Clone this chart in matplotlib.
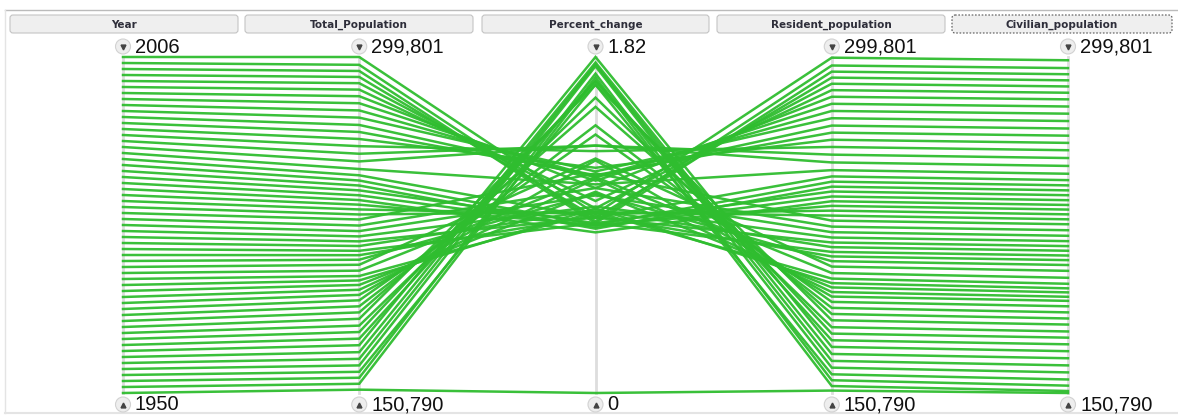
import matplotlib
matplotlib.use("Agg")
from matplotlib import pyplot as plt
from matplotlib.patches import FancyBboxPatch, Circle

# data (thousands), read / estimated from the chart
years = list(range(1950, 2007))
total_pop = [152271, 154878, 157553, 160184, 163026, 165931, 168903, 171984, 174882, 177830,
             180671, 183691, 186538, 189242, 191889, 194303, 196560, 198712, 200706, 202677,
             205052, 207661, 209896, 211909, 213854, 215973, 218035, 220239, 222585, 225055,
             227726, 229966, 232188, 234307, 236348, 238466, 240651, 242804, 245021, 247342,
             250132, 253493, 256894, 260255, 263436, 266557, 269667, 272912, 276115, 279295,
             282407, 285339, 288189, 290941, 293609, 296329, 299801]
pct_change = [0, 1.71, 1.73, 1.67, 1.77, 1.78, 1.79, 1.82, 1.69, 1.69,
              1.60, 1.67, 1.55, 1.45, 1.40, 1.26, 1.16, 1.09, 1.00, 0.98,
              1.17, 1.27, 1.08, 0.96, 0.92, 0.99, 0.95, 1.01, 1.07, 1.11,
              1.19, 0.98, 0.97, 0.91, 0.87, 0.90, 0.92, 0.89, 0.91, 0.95,
              1.13, 1.34, 1.34, 1.31, 1.22, 1.18, 1.17, 1.20, 1.17, 1.15,
              1.11, 1.04, 1.00, 0.95, 0.92, 0.93, 0.97]
resident_pop = [151868, 153878, 156453, 159084, 162026, 165031, 168103, 171234, 174182, 177130,
                179979, 183041, 185838, 188542, 191189, 193553, 195560, 197612, 199506, 201527,
                203984, 206861, 209246, 211359, 213354, 215473, 217535, 219739, 222105, 224575,
                227225, 229466, 231668, 233787, 235828, 237946, 240151, 242304, 244521, 246842,
                249623, 253043, 256494, 259905, 263106, 266257, 269387, 272652, 275865, 279045,
                282167, 285099, 287939, 290661, 293309, 296029, 299501]
civilian_pop = [150790, 151678, 154053, 156784, 159926, 163031, 166203, 169334, 172382, 175330,
                178079, 181141, 183838, 186542, 189239, 191653, 193460, 195412, 197206, 199227,
                201884, 204961, 207546, 209709, 211754, 213873, 215935, 218139, 220505, 222975,
                225625, 227816, 230018, 232137, 234178, 236296, 238501, 240654, 242871, 245192,
                248023, 251493, 254994, 258455, 261706, 264907, 268087, 271402, 274665, 277845,
                281017, 283949, 286739, 289461, 292159, 294879, 298351]

columns = ["Year", "Total_Population", "Percent_change", "Resident_population", "Civilian_population"]
series = [years, total_pop, pct_change, resident_pop, civilian_pop]

# population axes share one range
pop_min = min(total_pop + resident_pop + civilian_pop)
pop_max = max(total_pop + resident_pop + civilian_pop)
ranges = [(min(years), max(years)), (pop_min, pop_max), (min(pct_change), max(pct_change)),
          (pop_min, pop_max), (pop_min, pop_max)]
top_labels = [str(ranges[0][1]), f"{ranges[1][1]:,}", f"{ranges[2][1]:g}", f"{ranges[3][1]:,}", f"{ranges[4][1]:,}"]
bot_labels = [str(ranges[0][0]), f"{ranges[1][0]:,}", f"{ranges[2][0]:g}", f"{ranges[3][0]:,}", f"{ranges[4][0]:,}"]

W, H = 1178, 417
fig = plt.figure(figsize=(W / 100, H / 100), dpi=100)

# overlay in pixel coords for the frame, headers and labels
bg = fig.add_axes([0, 0, 1, 1])
bg.set_xlim(0, W)
bg.set_ylim(H, 0)
bg.axis("off")

ax_x0, ax_x1 = 123, 1068
ax_ytop, ax_ybot = 57, 393
ax = fig.add_axes([ax_x0 / W, (H - ax_ybot) / H, (ax_x1 - ax_x0) / W, (ax_ybot - ax_ytop) / H])
ax.set_xlim(0, len(columns) - 1)
ax.set_ylim(0, 1)
ax.axis("off")

# axis lines
for i in range(len(columns)):
    ax.plot([i, i], [0, 1], color="#dddddd", lw=2, zorder=1, clip_on=False)

# polylines
norm = []
for s, (lo, hi) in zip(series, ranges):
    norm.append([(v - lo) / (hi - lo) for v in s])
for r in range(len(years)):
    ax.plot(range(len(columns)), [norm[c][r] for c in range(len(columns))],
            color="#2fbd2f", lw=1.8, alpha=0.95, zorder=2, clip_on=False,
            solid_joinstyle="miter")

# frame lines
bg.plot([5, W], [10, 10], color="#bbbbbb", lw=1)
bg.plot([5, 5], [10, 413], color="#e4e4e4", lw=1)
bg.plot([5, W], [413, 413], color="#e4e4e4", lw=1.5)

# header buttons
boxes = [(10, 238), (245, 473), (482, 709), (717, 945), (952, 1172)]
for i, (x0, x1) in enumerate(boxes):
    last = i == len(boxes) - 1
    p = FancyBboxPatch((x0, 15), x1 - x0, 18, boxstyle="round,pad=0,rounding_size=3",
                       facecolor="#efefef", edgecolor="#555555" if last else "#c4c4c4",
                       lw=0.8, linestyle=(0, (1.5, 1.5)) if last else "-")
    bg.add_patch(p)
    bg.text((x0 + x1) / 2, 24.5, columns[i], ha="center", va="center",
            fontsize=7.5, fontweight="bold", color="#2e2e3a", family="DejaVu Sans")

# value labels with the small round buttons
xs = [ax_x0 + i * (ax_x1 - ax_x0) / (len(columns) - 1) for i in range(len(columns))]
for i, x in enumerate(xs):
    for y, lab, mk in [(47, top_labels[i], "v"), (405, bot_labels[i], "^")]:
        bg.add_patch(Circle((x, y - 0.5), 7.5, facecolor="#eeeeee", edgecolor="#d2d2d2", lw=0.8, zorder=3))
        bg.plot(x, y - 0.5, marker=mk, ms=3.5, color="#444444", zorder=4)
        bg.text(x + 12, y, lab, ha="left", va="center", fontsize=14.5,
                family="Liberation Sans", color="#111111", zorder=4)

fig.savefig("out.png", dpi=100)
